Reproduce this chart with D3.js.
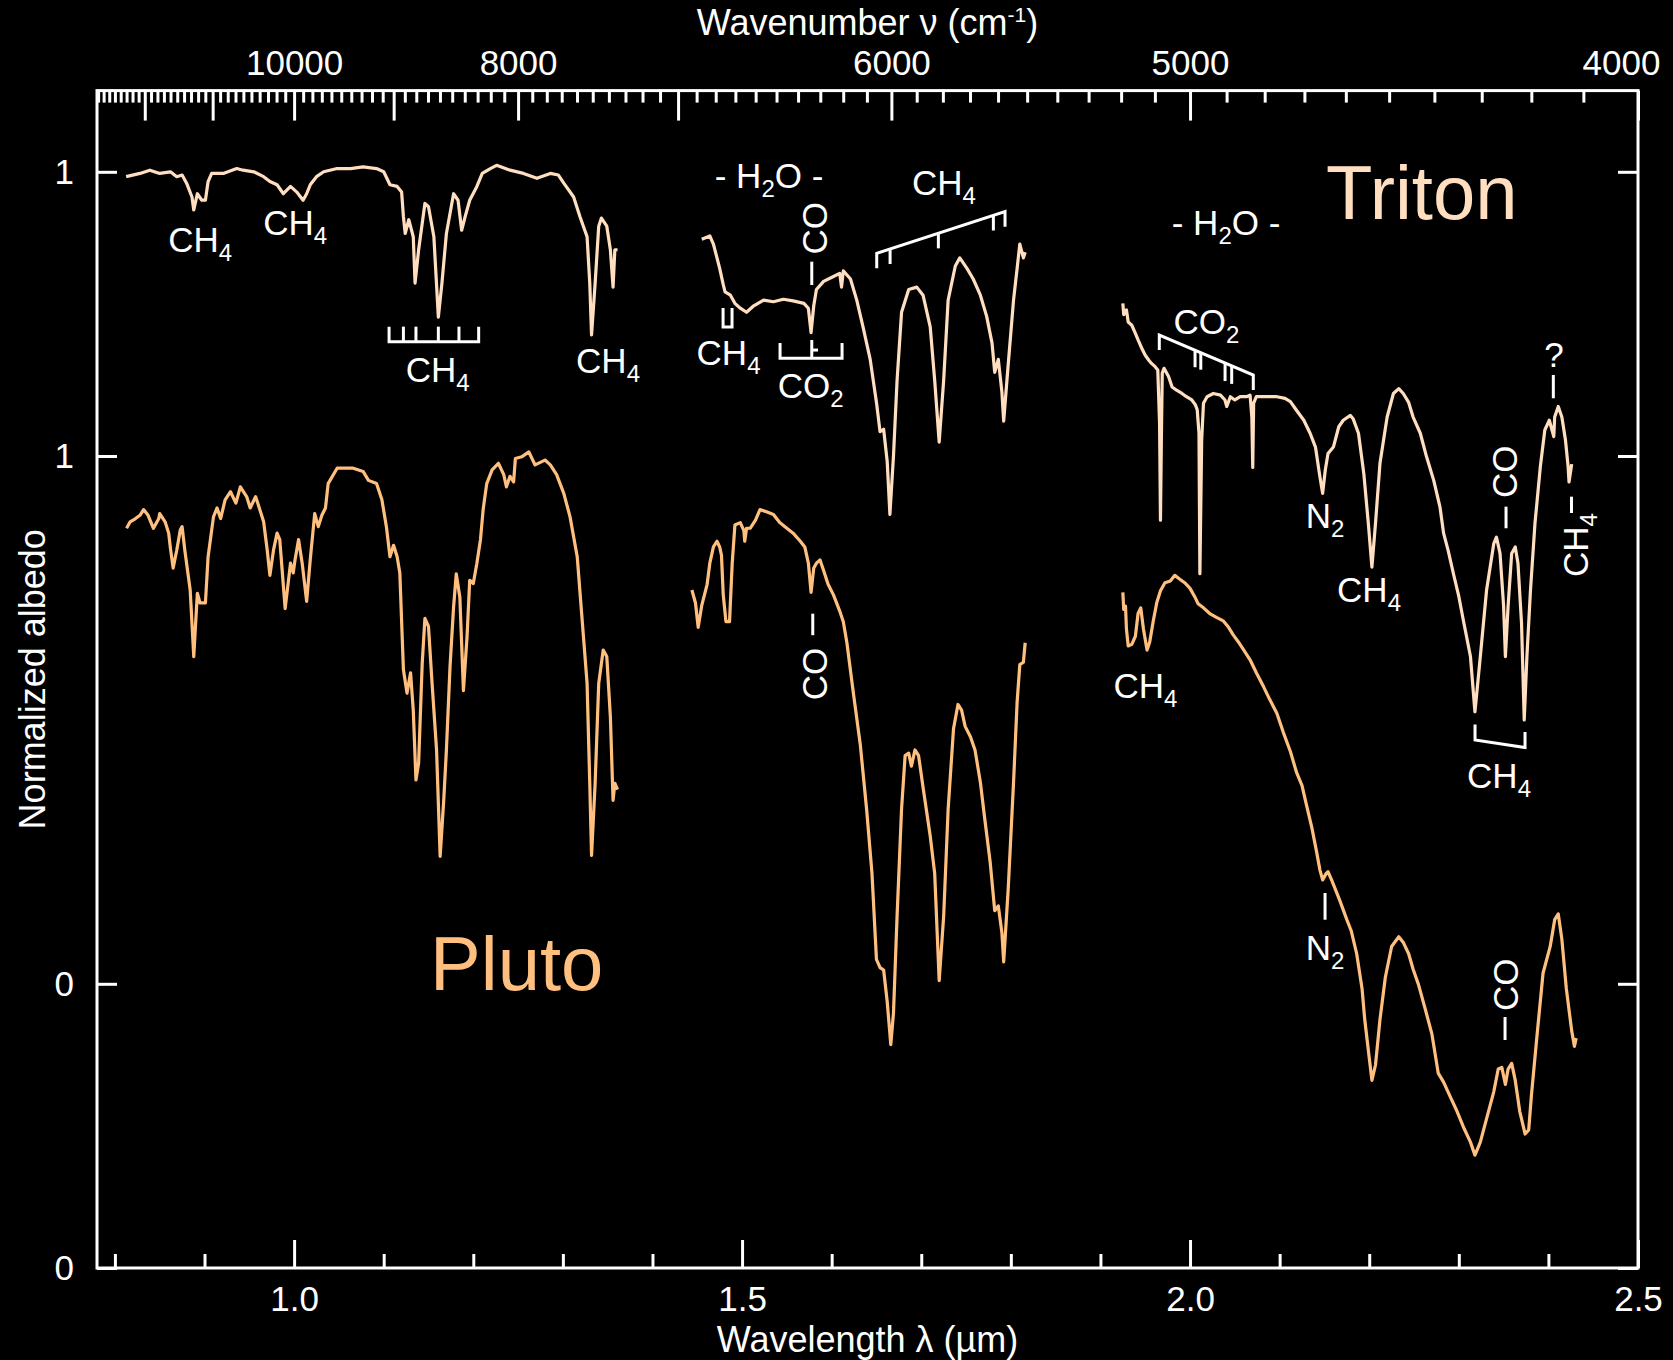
<!DOCTYPE html>
<html>
<head>
<meta charset="utf-8">
<script src="https://cdn.jsdelivr.net/npm/d3@7"></script>
<style>
  body { margin: 0; background: #000; }
  svg { display: block; background: #000; }
  text { font-family: "Liberation Sans", Arial, Helvetica, sans-serif; fill: #fff; }
</style>
</head>
<body>
<svg id="svg-spectra" width="1673" height="1360"></svg>
<script>
/////////////////////////////////////////////////////////////////////////////
// spectra, [wavelength um, normalized albedo]
var triton1 = [[0.8125,0.994],[0.828,0.998],[0.839,1.002],[0.850,0.998],[0.862,1.000],[0.869,0.994],[0.875,0.996],[0.880,0.986],[0.886,0.969],[0.888,0.953],[0.892,0.973],[0.897,0.965],[0.901,0.965],[0.904,0.988],[0.908,0.998],[0.921,0.998],[0.936,1.004],[0.943,1.002],[0.955,1.000],[0.966,0.994],[0.973,0.988],[0.981,0.984],[0.988,0.973],[0.996,0.982],[1.003,0.975],[1.010,0.965],[1.014,0.973],[1.018,0.984],[1.025,0.994],[1.033,1.000],[1.048,1.004],[1.063,1.004],[1.077,1.006],[1.092,1.004],[1.100,1.000],[1.107,0.984],[1.115,0.982],[1.120,0.975],[1.122,0.945],[1.124,0.924],[1.128,0.941],[1.133,0.920],[1.135,0.863],[1.139,0.904],[1.146,0.961],[1.150,0.957],[1.156,0.920],[1.161,0.821],[1.165,0.863],[1.170,0.924],[1.178,0.973],[1.183,0.965],[1.187,0.928],[1.191,0.945],[1.196,0.965],[1.204,0.982],[1.210,0.998],[1.219,1.004],[1.226,1.008],[1.241,1.002],[1.256,0.998],[1.271,0.992],[1.286,0.998],[1.295,0.996],[1.301,0.986],[1.312,0.969],[1.319,0.945],[1.327,0.920],[1.330,0.863],[1.332,0.799],[1.336,0.863],[1.340,0.933],[1.343,0.943],[1.349,0.933],[1.353,0.904],[1.356,0.858],[1.358,0.904],[1.361,0.904]];
var triton2 = [[1.455,0.917],[1.464,0.921],[1.468,0.911],[1.472,0.894],[1.475,0.881],[1.479,0.861],[1.481,0.852],[1.487,0.848],[1.492,0.838],[1.498,0.832],[1.505,0.827],[1.513,0.835],[1.524,0.842],[1.535,0.840],[1.546,0.843],[1.557,0.841],[1.569,0.838],[1.574,0.832],[1.577,0.802],[1.580,0.835],[1.583,0.855],[1.591,0.865],[1.602,0.871],[1.609,0.875],[1.611,0.858],[1.613,0.878],[1.621,0.868],[1.628,0.842],[1.635,0.809],[1.643,0.769],[1.650,0.716],[1.654,0.680],[1.658,0.683],[1.662,0.643],[1.665,0.578],[1.669,0.650],[1.673,0.743],[1.678,0.827],[1.686,0.855],[1.695,0.858],[1.702,0.848],[1.710,0.809],[1.715,0.743],[1.720,0.667],[1.725,0.743],[1.730,0.842],[1.738,0.884],[1.743,0.894],[1.751,0.881],[1.758,0.868],[1.766,0.848],[1.773,0.822],[1.779,0.789],[1.782,0.753],[1.786,0.769],[1.790,0.729],[1.792,0.693],[1.797,0.762],[1.803,0.842],[1.807,0.881],[1.810,0.911],[1.814,0.894],[1.816,0.901]];
var triton3 = [[1.925,0.838],[1.926,0.824],[1.929,0.830],[1.931,0.815],[1.935,0.811],[1.939,0.801],[1.942,0.793],[1.946,0.783],[1.950,0.774],[1.954,0.768],[1.957,0.764],[1.961,0.760],[1.964,0.756],[1.966,0.690],[1.967,0.571],[1.968,0.670],[1.969,0.752],[1.971,0.758],[1.976,0.748],[1.980,0.735],[1.985,0.731],[1.991,0.727],[1.996,0.723],[2.002,0.719],[2.006,0.713],[2.008,0.707],[2.010,0.678],[2.011,0.505],[2.013,0.670],[2.015,0.715],[2.019,0.723],[2.026,0.727],[2.034,0.725],[2.039,0.719],[2.041,0.711],[2.045,0.723],[2.050,0.719],[2.056,0.723],[2.063,0.723],[2.067,0.725],[2.069,0.698],[2.070,0.636],[2.071,0.715],[2.074,0.723],[2.086,0.723],[2.097,0.723],[2.106,0.721],[2.112,0.717],[2.119,0.706],[2.127,0.694],[2.134,0.678],[2.140,0.661],[2.145,0.624],[2.148,0.604],[2.151,0.633],[2.154,0.653],[2.160,0.661],[2.166,0.686],[2.171,0.694],[2.179,0.700],[2.182,0.696],[2.188,0.678],[2.194,0.628],[2.199,0.567],[2.203,0.513],[2.207,0.567],[2.212,0.641],[2.220,0.698],[2.227,0.727],[2.233,0.733],[2.238,0.727],[2.244,0.716],[2.249,0.698],[2.257,0.678],[2.264,0.649],[2.272,0.620],[2.279,0.587],[2.283,0.555],[2.288,0.534],[2.294,0.505],[2.300,0.477],[2.305,0.448],[2.313,0.403],[2.318,0.335],[2.324,0.403],[2.331,0.485],[2.339,0.542],[2.342,0.550],[2.346,0.530],[2.350,0.465],[2.352,0.403],[2.355,0.465],[2.359,0.530],[2.363,0.538],[2.366,0.518],[2.370,0.444],[2.373,0.325],[2.376,0.403],[2.380,0.485],[2.385,0.567],[2.391,0.637],[2.396,0.682],[2.401,0.694],[2.404,0.682],[2.406,0.674],[2.407,0.698],[2.411,0.711],[2.415,0.698],[2.419,0.670],[2.422,0.637],[2.423,0.618],[2.426,0.640]];

var pluto1 = [[0.813,0.911],[0.817,0.919],[0.823,0.923],[0.828,0.927],[0.832,0.934],[0.837,0.927],[0.843,0.911],[0.849,0.923],[0.850,0.929],[0.856,0.919],[0.860,0.905],[0.862,0.886],[0.865,0.862],[0.869,0.884],[0.873,0.909],[0.875,0.913],[0.878,0.884],[0.884,0.835],[0.888,0.753],[0.892,0.831],[0.895,0.819],[0.901,0.819],[0.904,0.876],[0.910,0.925],[0.914,0.936],[0.918,0.923],[0.923,0.946],[0.929,0.956],[0.935,0.942],[0.940,0.962],[0.947,0.950],[0.951,0.936],[0.957,0.950],[0.960,0.940],[0.966,0.919],[0.970,0.884],[0.973,0.853],[0.977,0.884],[0.981,0.905],[0.984,0.897],[0.990,0.812],[0.996,0.868],[0.999,0.856],[1.001,0.872],[1.005,0.897],[1.009,0.868],[1.014,0.821],[1.018,0.872],[1.023,0.929],[1.027,0.913],[1.031,0.927],[1.035,0.936],[1.038,0.966],[1.048,0.985],[1.055,0.985],[1.066,0.985],[1.077,0.981],[1.083,0.970],[1.092,0.966],[1.098,0.946],[1.103,0.913],[1.107,0.876],[1.111,0.890],[1.115,0.876],[1.118,0.856],[1.122,0.737],[1.126,0.708],[1.130,0.733],[1.133,0.687],[1.136,0.601],[1.139,0.622],[1.143,0.745],[1.146,0.800],[1.150,0.790],[1.154,0.720],[1.159,0.638],[1.163,0.507],[1.167,0.576],[1.170,0.638],[1.174,0.740],[1.178,0.814],[1.181,0.855],[1.185,0.826],[1.189,0.711],[1.193,0.777],[1.196,0.847],[1.200,0.843],[1.204,0.868],[1.208,0.897],[1.211,0.934],[1.215,0.966],[1.221,0.983],[1.228,0.991],[1.234,0.977],[1.237,0.962],[1.241,0.975],[1.245,0.968],[1.247,0.997],[1.254,0.999],[1.262,1.005],[1.269,0.989],[1.280,0.995],[1.286,0.989],[1.293,0.977],[1.301,0.954],[1.308,0.925],[1.316,0.876],[1.323,0.777],[1.327,0.720],[1.330,0.597],[1.332,0.508],[1.336,0.597],[1.340,0.720],[1.345,0.761],[1.349,0.753],[1.353,0.679],[1.356,0.576],[1.358,0.597],[1.361,0.589]];
var pluto2 = [[1.444,0.835],[1.448,0.819],[1.451,0.789],[1.455,0.816],[1.461,0.842],[1.464,0.868],[1.468,0.888],[1.472,0.895],[1.475,0.888],[1.477,0.878],[1.479,0.829],[1.482,0.796],[1.486,0.796],[1.489,0.868],[1.492,0.915],[1.498,0.918],[1.502,0.908],[1.503,0.895],[1.505,0.911],[1.509,0.911],[1.515,0.921],[1.520,0.934],[1.528,0.931],[1.535,0.928],[1.542,0.918],[1.550,0.911],[1.557,0.905],[1.565,0.895],[1.570,0.888],[1.574,0.868],[1.577,0.832],[1.580,0.862],[1.583,0.868],[1.587,0.872],[1.591,0.859],[1.596,0.842],[1.602,0.829],[1.609,0.809],[1.613,0.796],[1.617,0.770],[1.624,0.710],[1.632,0.644],[1.639,0.565],[1.645,0.486],[1.650,0.380],[1.654,0.370],[1.658,0.367],[1.662,0.328],[1.666,0.275],[1.669,0.314],[1.673,0.433],[1.678,0.565],[1.682,0.631],[1.686,0.634],[1.689,0.618],[1.693,0.638],[1.697,0.631],[1.702,0.592],[1.710,0.532],[1.715,0.486],[1.720,0.354],[1.725,0.433],[1.730,0.565],[1.736,0.664],[1.741,0.694],[1.745,0.687],[1.749,0.667],[1.755,0.654],[1.760,0.638],[1.766,0.598],[1.771,0.552],[1.777,0.499],[1.782,0.440],[1.786,0.446],[1.790,0.413],[1.792,0.377],[1.797,0.466],[1.803,0.598],[1.807,0.697],[1.810,0.743],[1.814,0.746],[1.816,0.770]];
var pluto3 = [[1.925,0.832],[1.926,0.811],[1.928,0.815],[1.929,0.787],[1.931,0.766],[1.935,0.768],[1.939,0.778],[1.942,0.806],[1.945,0.813],[1.948,0.787],[1.952,0.761],[1.955,0.771],[1.959,0.797],[1.963,0.820],[1.967,0.834],[1.972,0.844],[1.978,0.846],[1.983,0.853],[1.989,0.848],[1.994,0.844],[2.000,0.837],[2.006,0.825],[2.009,0.818],[2.015,0.813],[2.022,0.806],[2.030,0.801],[2.037,0.797],[2.043,0.789],[2.048,0.780],[2.054,0.771],[2.060,0.761],[2.067,0.749],[2.074,0.733],[2.082,0.716],[2.089,0.700],[2.097,0.683],[2.104,0.660],[2.112,0.636],[2.119,0.610],[2.125,0.594],[2.130,0.570],[2.136,0.542],[2.141,0.514],[2.145,0.490],[2.148,0.478],[2.152,0.486],[2.154,0.488],[2.158,0.478],[2.162,0.467],[2.167,0.453],[2.175,0.429],[2.180,0.415],[2.186,0.387],[2.192,0.344],[2.195,0.306],[2.200,0.259],[2.203,0.231],[2.207,0.250],[2.212,0.306],[2.218,0.358],[2.225,0.396],[2.233,0.408],[2.238,0.401],[2.244,0.387],[2.249,0.368],[2.255,0.349],[2.262,0.321],[2.270,0.288],[2.277,0.240],[2.283,0.229],[2.290,0.212],[2.298,0.193],[2.305,0.174],[2.313,0.155],[2.318,0.139],[2.324,0.155],[2.331,0.184],[2.339,0.217],[2.344,0.245],[2.348,0.247],[2.352,0.226],[2.355,0.245],[2.359,0.252],[2.363,0.231],[2.368,0.193],[2.374,0.165],[2.378,0.170],[2.381,0.212],[2.387,0.283],[2.394,0.363],[2.402,0.396],[2.407,0.429],[2.411,0.436],[2.415,0.405],[2.420,0.344],[2.426,0.292],[2.429,0.273],[2.431,0.283]];

// Triton is shifted up on the plot by this much
var tritonOffset = 0.35;

// ticks
var wlMajor = [1.0, 1.5, 2.0, 2.5];
var wlMinor = [0.8, 0.9, 1.1, 1.2, 1.3, 1.4, 1.6, 1.7, 1.8, 1.9, 2.1, 2.2, 2.3, 2.4];
var wnMajor = [12000, 11000, 10000, 9000, 8000, 7000, 6000, 5000, 4000];
var wnLabels = [10000, 8000, 6000, 5000, 4000];
var albedoTicks = [0, 1];

// band labels, placed at [wavelength, plot value]
var bandLabels = [
  {t:"CH_4", wl:0.8951, v:1.2516}, {t:"CH_4", wl:1.0011, v:1.2722},
  {t:"CH_4", wl:1.1602, v:1.0915}, {t:"CH_4", wl:1.3504, v:1.1018},
  {t:"- H_2O -", wl:1.5301, v:1.3297}, {t:"CO", wl:1.5949, v:1.2804, rot:true},
  {t:"CH_4", wl:1.4849, v:1.1121}, {t:"CO_2", wl:1.5765, v:1.0710},
  {t:"CH_4", wl:1.7254, v:1.3214}, {t:"- H_2O -", wl:2.0402, v:1.2725},
  {t:"CO_2", wl:2.0184, v:1.1499}, {t:"N_2", wl:2.1507, v:0.9109},
  {t:"CH_4", wl:2.1998, v:0.8206}, {t:"CO", wl:2.3646, v:0.9807, rot:true},
  {t:"?", wl:2.4063, v:1.1096}, {t:"CH_4", wl:2.4442, v:0.8904, rot:true},
  {t:"CH_4", wl:2.3449, v:0.5915}, {t:"CO", wl:1.5945, v:0.7315, rot:true},
  {t:"CH_4", wl:1.9503, v:0.7022}, {t:"N_2", wl:2.1507, v:0.3793},
  {t:"CO", wl:2.3661, v:0.3488, rot:true}
];
// brackets and marker ticks
var bandMarks = [
  [[1.106,1.1593],[1.106,1.1408],[1.206,1.1408],[1.206,1.1593]],
  [[1.122,1.1408],[1.122,1.1593]], [[1.136,1.1408],[1.136,1.1593]],
  [[1.161,1.1408],[1.161,1.1593]], [[1.184,1.1408],[1.184,1.1593]],
  [[1.5778,1.2393],[1.5778,1.2106]],
  [[1.4788,1.1823],[1.4788,1.1589],[1.4888,1.1589],[1.4888,1.1823]],
  [[1.5424,1.1391],[1.5424,1.1203],[1.6116,1.1203],[1.6116,1.1391]],
  [[1.5778,1.1203],[1.5778,1.1429]], [[1.5778,1.1305],[1.5848,1.1305]],
  [[1.6503,1.2311],[1.6503,1.2496],[1.7935,1.3009],[1.7935,1.2824]],
  [[1.6652,1.2549],[1.6652,1.2364]], [[1.7191,1.2742],[1.7191,1.2557]],
  [[1.7805,1.2962],[1.7805,1.2777]],
  [[1.9657,1.1305],[1.9657,1.1490],[2.0706,1.0997],[2.0706,1.0812]],
  [[2.0056,1.1302],[2.0056,1.1093]], [[2.0120,1.1272],[2.0120,1.1063]],
  [[2.0391,1.1145],[2.0391,1.0923]], [[2.0465,1.1110],[2.0465,1.0888]],
  [[2.3527,0.9376],[2.3527,0.9110]], [[2.4055,1.0998],[2.4055,1.0711]],
  [[2.4258,0.9499],[2.4258,0.9298]],
  [[2.3181,0.6692],[2.3181,0.6502],[2.3739,0.6410],[2.3739,0.6601]],
  [[1.5789,0.8058],[1.5789,0.7793]], [[2.1507,0.4618],[2.1507,0.4289]],
  [[2.3516,0.3091],[2.3516,0.2808]]
];

/////////////////////////////////////////////////////////////////////////////
var tritonColor = "#ffdfc0";
var plutoColor = "#ffc07f";
var fontFam = "'Liberation Sans', Arial, Helvetica, sans-serif";

var svg = d3.select("#svg-spectra");
var w = 1673, h = 1360;
var x = d3.scaleLinear()
          .domain([0.78, 2.5])
          .range([97, w-35]);
var y = d3.scaleLinear()
          .domain([0, 1.45])
          .range([h-92, 90.6]);

function styleAxis(g) {
  g.select(".domain").remove();
  g.attr("font-family", fontFam).attr("font-size", 35).attr("color", "#fff");
  g.selectAll("line").attr("stroke-width", 3);
}

// bottom, wavelength
svg.append("g")
    .attr("transform", "translate(0," + y(0) + ")")
    .call(d3.axisBottom(x).tickValues(wlMajor).tickSize(-28).tickPadding(18).tickFormat(d3.format(".1f")))
    .call(styleAxis);
svg.append("g")
    .attr("transform", "translate(0," + y(0) + ")")
    .call(d3.axisBottom(x).tickValues(wlMinor).tickSize(-14).tickFormat(""))
    .call(styleAxis);

// top, wavenumber = 10000 / wavelength
var wnMinor = d3.range(4100, 12900, 100).filter(function(k) { return k % 1000 != 0; })
    .map(function(k) { return 1e4/k; })
    .filter(function(l) { return l >= 0.78; });
var topAxis = svg.append("g")
    .attr("transform", "translate(0," + y(1.45) + ")")
    .call(d3.axisTop(x)
      .tickValues(wnMajor.map(function(k) { return 1e4/k; }))
      .tickSize(-30).tickPadding(16)
      .tickFormat(function(d) {
        var k = Math.round(1e4/d);
        return wnLabels.indexOf(k) >= 0 ? k : "";
      }))
    .call(styleAxis);
// last label pulled in so it stays on the page
topAxis.selectAll("text")
    .filter(function(d) { return Math.round(1e4/d) == 4000; })
    .attr("dx", -17);
svg.append("g")
    .attr("transform", "translate(0," + y(1.45) + ")")
    .call(d3.axisTop(x).tickValues(wnMinor).tickSize(-12).tickFormat(""))
    .call(styleAxis);

// left / right, two offset albedo scales
var yTickPos = albedoTicks.concat(albedoTicks.map(function(v) { return v + tritonOffset; }));
var yTickLab = albedoTicks.concat(albedoTicks);
svg.append("g")
    .attr("transform", "translate(" + x(0.78) + ",0)")
    .call(d3.axisLeft(y).tickValues(yTickPos).tickSize(-20).tickPadding(23)
      .tickFormat(function(d, i) { return yTickLab[i]; }))
    .call(styleAxis);
svg.append("g")
    .attr("transform", "translate(" + x(2.5) + ",0)")
    .call(d3.axisRight(y).tickValues(yTickPos).tickSize(-20).tickFormat(""))
    .call(styleAxis);

// frame
svg.append("rect")
    .attr("x", x(0.78))
    .attr("y", y(1.45))
    .attr("width", x(2.5) - x(0.78))
    .attr("height", y(0) - y(1.45))
    .style("fill", "none")
    .style("stroke", "#fff")
    .style("stroke-width", 3);

// axis titles
var xMid = (x(0.78) + x(2.5))/2;
var topTitle = svg.append("text")
    .attr("x", xMid)
    .attr("y", 35)
    .style("font-size", "36px")
    .style("text-anchor", "middle");
topTitle.append("tspan").text("Wavenumber \u03bd (cm");
topTitle.append("tspan").text("-1").style("font-size", "21px").attr("dy", -13);
topTitle.append("tspan").text(")").attr("dy", 13);

svg.append("text")
    .attr("x", xMid)
    .attr("y", 1352)
    .style("font-size", "36px")
    .style("text-anchor", "middle")
    .text("Wavelength \u03bb (\u00b5m)");

svg.append("text")
    .attr("transform", "translate(45," + (y(0) + y(1.45))/2 + ") rotate(-90)")
    .style("font-size", "36px")
    .style("text-anchor", "middle")
    .text("Normalized albedo");

// spectra
function spectrum(data, offset, color) {
  var line = d3.line()
      .x(function(d) { return x(d[0]); })
      .y(function(d) { return y(d[1] + offset); });
  svg.append("path")
      .datum(data)
      .attr("d", line)
      .style("fill", "none")
      .style("stroke", color)
      .style("stroke-width", 3.2)
      .style("stroke-linejoin", "round");
}
[pluto1, pluto2, pluto3].forEach(function(s) { spectrum(s, 0, plutoColor); });
[triton1, triton2, triton3].forEach(function(s) { spectrum(s, tritonOffset, tritonColor); });

// band marks
svg.selectAll("band_marks")
    .data(bandMarks)
    .enter()
    .append("path")
    .attr("d", d3.line().x(function(d) { return x(d[0]); }).y(function(d) { return y(d[1]); }))
    .style("fill", "none")
    .style("stroke", "#fff")
    .style("stroke-width", 3);

// band labels with subscripts ("_" marks the next char as subscript)
function chem(sel, s) {
  var parts = s.split(/_(.)/);
  parts.forEach(function(p, i) {
    if (p === "") return;
    var ts = sel.append("tspan").text(p);
    if (i % 2 == 1) { ts.style("font-size", "24px").attr("dy", 9); }
    else if (i > 0) { ts.attr("dy", -9); }
  });
}
svg.selectAll("band_labels")
    .data(bandLabels)
    .enter()
    .append("text")
    .attr("transform", function(d) {
      return "translate(" + x(d.wl) + "," + y(d.v) + ")" + (d.rot ? " rotate(-90)" : "");
    })
    .style("font-size", "35px")
    .style("text-anchor", "middle")
    .each(function(d) { chem(d3.select(this), d.t); });

// body names
svg.append("text")
    .attr("x", x(2.1518))
    .attr("y", y(1.2922))
    .text("Triton")
    .style("font-size", "76px")
    .style("fill", tritonColor);
svg.append("text")
    .attr("x", x(1.1518))
    .attr("y", y(0.3424))
    .text("Pluto")
    .style("font-size", "76px")
    .style("fill", plutoColor);
</script>
</body>
</html>
